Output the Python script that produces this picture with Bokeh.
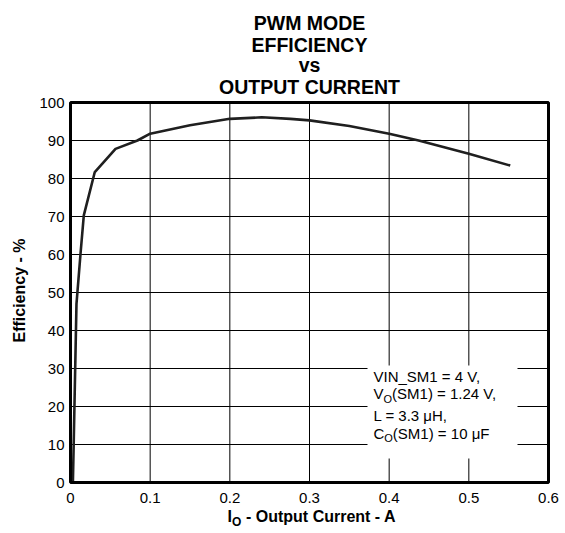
import math
from bokeh.plotting import figure
from bokeh.models import Range1d, Label
from bokeh.core.properties import value
from bokeh.embed import file_html
from bokeh.resources import INLINE

# ---- data ----
current_a = [0.003, 0.004, 0.0075, 0.0125, 0.0167, 0.0305, 0.0565, 0.084,
             0.1, 0.15, 0.2, 0.24, 0.276, 0.3, 0.35, 0.4, 0.437, 0.5, 0.552]
efficiency_pct = [0, 10, 47, 60, 70.3, 81.7, 87.8, 90,
                  91.8, 94.0, 95.7, 96.1, 95.7, 95.3, 93.8, 91.8, 90, 86.5, 83.4]
x_ticks = [0, 0.1, 0.2, 0.3, 0.4, 0.5, 0.6]
x_tick_labels = ["0", "0.1", "0.2", "0.3", "0.4", "0.5", "0.6"]
y_ticks = [0, 10, 20, 30, 40, 50, 60, 70, 80, 90, 100]
y_tick_labels = [str(v) for v in y_ticks]
title_lines = ["PWM MODE", "EFFICIENCY", "vs", "OUTPUT CURRENT"]

FONT = "Liberation Sans"
W, H = 561, 529
# plot area in canvas pixels: x 0..0.6 -> 70..548, y 0..100 -> 482..102
PX_X = 478 / 0.6
PX_Y = 380 / 100.0
x0_px, y0_px = 70, 482

p = figure(width=W, height=H, min_border=0,
           x_range=Range1d(-x0_px / PX_X, (W - x0_px) / PX_X),
           y_range=Range1d((y0_px - H) / PX_Y, y0_px / PX_Y),
           x_axis_type=None, y_axis_type=None,
           output_backend="svg", toolbar_location=None)
p.outline_line_color = None

xmin, xmax = x_ticks[0], x_ticks[-1]
ymin, ymax = y_ticks[0], y_ticks[-1]

# grid lines from the tick values
p.segment(x0=x_ticks, y0=[ymin] * len(x_ticks), x1=x_ticks, y1=[ymax] * len(x_ticks),
          line_color="black", line_width=1)
p.segment(x0=[xmin] * len(y_ticks), y0=y_ticks, x1=[xmax] * len(y_ticks), y1=y_ticks,
          line_color="black", line_width=1)

# white area behind the annotation text
p.quad(left=[0.3728], right=[0.5611], bottom=[6.32], top=[30.79],
       fill_color="white", line_color=None)

# curve
p.line(current_a, efficiency_pct, line_color="#1f1f1f", line_width=2.6)

# frame border
p.quad(left=[xmin], right=[xmax], bottom=[ymin], top=[ymax],
       fill_color=None, line_color="black", line_width=3)

# tick labels
p.text(x=x_ticks, y=[ymin] * len(x_ticks), text=x_tick_labels,
       y_offset=15, text_align="center", text_baseline="middle",
       text_font=value(FONT), text_font_size="15px", text_color="black")
p.text(x=[xmin] * len(y_ticks), y=y_ticks, text=y_tick_labels,
       x_offset=-6, text_align="right", text_baseline="middle",
       text_font=value(FONT), text_font_size="15px", text_color="black")


def lab(x, y, text, size="15px", style="normal", align="left", xo=0, yo=0,
        angle=0, baseline="middle"):
    p.add_layout(Label(x=x, y=y, text=text, text_font=FONT, text_font_size=size,
                       text_font_style=style, text_align=align,
                       text_baseline=baseline, x_offset=xo, y_offset=yo,
                       angle=angle, text_color="black"))


# annotation
ax0 = 0.3803
lab(ax0, 27.9, "VIN_SM1 = 4 V,")
lab(ax0, 23.3, "V")
lab(ax0, 23.3, "O", size="11px", xo=10.0, yo=-5)
lab(ax0, 23.3, "(SM1) = 1.24 V,", xo=18.6)
lab(ax0, 17.6, "L = 3.3 \u03bcH,")
lab(ax0, 12.9, "C")
lab(ax0, 12.9, "O", size="11px", xo=10.8, yo=-5)
lab(ax0, 12.9, "(SM1) = 10 \u03bcF", xo=19.4)

# title (baselines in canvas px)
for txt, py in zip(title_lines, [22.5, 44, 64.5, 86]):
    lab(0.3, (y0_px - py) / PX_Y, txt, size="19.5px", style="bold",
        align="center", baseline="alphabetic")

# axis labels
lab((19 - x0_px) / PX_X, (y0_px - 290) / PX_Y, "Efficiency - %", size="16px",
    style="bold", align="center", angle=math.pi / 2)
yl = (y0_px - 516) / PX_Y
lab(0.3, yl, "I", size="16px", style="bold", xo=-82)
lab(0.3, yl, "O", size="12px", style="bold", xo=-77.4, yo=-5)
lab(0.3, yl, "- Output Current - A", size="16px", style="bold", xo=-63.5)

open("out.html", "w").write(file_html(p, INLINE))
